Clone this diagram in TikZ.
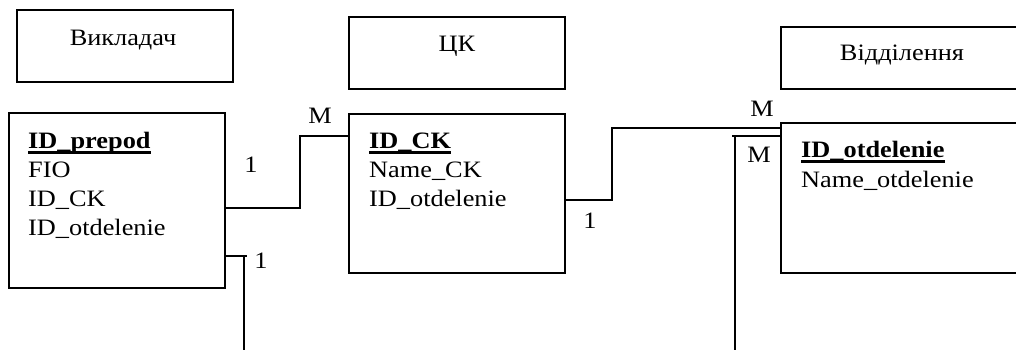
\documentclass[tikz,border=0pt]{standalone}
\usepackage{fontspec}
\setmainfont[FakeStretch=1.12]{Liberation Serif}
\begin{document}
\begin{tikzpicture}[x=1pt,y=-1pt,
  box/.style={draw, line width=1.8pt, inner sep=0, anchor=north west},
  txt/.style={inner sep=0, anchor=base west, font=\fontsize{23.5}{29}\selectfont},
  keyt/.style={inner sep=0, anchor=base west, font=\fontsize{23.5}{29}\selectfont\bfseries},
  ttl/.style={inner sep=0, anchor=base, font=\fontsize{23.5}{29}\selectfont},
  lab/.style={inner sep=0, anchor=base, font=\fontsize{23.5}{29}\selectfont},
  conn/.style={line width=1.8pt},
  uline/.style={line width=2.6pt}]
\useasboundingbox (0,0) rectangle (1016,350);
\clip (0,0) rectangle (1016,350);

% entity title boxes
\node[box, minimum width=216, minimum height=72] (hv) at (16,9) {};
\node[ttl] (tv) at (123,46) {Викладач};
\node[box, minimum width=216, minimum height=72] (hc) at (348,16) {};
\node[ttl] (tc) at (457,52) {ЦК};
\node[box, minimum width=260, minimum height=62] (ho) at (780,26) {};
\node[ttl] (to) at (902,61) {Відділення};

% tables
\node[box, minimum width=216, minimum height=175] (tp) at (8,112) {};
\node[keyt] (k1) at (28,148) {ID\_prepod};
\draw[uline] ([yshift=-4.5pt]k1.base west) -- ([yshift=-4.5pt]k1.base east);
\node[txt] (a11) at (28,177) {FIO};
\node[txt] (a12) at (28,206) {ID\_CK};
\node[txt] (a13) at (28,235) {ID\_otdelenie};

\node[box, minimum width=216, minimum height=159] (tk) at (348,113) {};
\node[keyt] (k2) at (369,148) {ID\_CK};
\draw[uline] ([yshift=-4.5pt]k2.base west) -- ([yshift=-4.5pt]k2.base east);
\node[txt] (a21) at (369,177) {Name\_CK};
\node[txt] (a22) at (369,206) {ID\_otdelenie};

\node[box, minimum width=260, minimum height=150] (td) at (780,122) {};
\node[keyt] (k3) at (801,157) {ID\_otdelenie};
\draw[uline] ([yshift=-4.5pt]k3.base west) -- ([yshift=-4.5pt]k3.base east);
\node[txt] (a31) at (801,187) {Name\_otdelenie};

% connectors
\coordinate (e1) at (244,350);
\coordinate (e2) at (735,350);
\draw[conn] (tp.east |- 0,208) -- (300,208) |- (tk.west |- 0,136);
\draw[conn] (tk.east |- 0,200) -- (612,200) |- (td.west |- 0,128);
\draw[conn] (tp.east |- 0,256) -- (247,256);
\draw[conn] (e1) -- (244,256);
\draw[conn] (td.west |- 0,136) -- (732,136);
\draw[conn] (e2) -- (735,136);

% cardinality labels
\node[lab] (l1) at (251,172) {1};
\node[lab] (l2) at (320,123) {M};
\node[lab] (l3) at (261,268) {1};
\node[lab] (l4) at (590,228) {1};
\node[lab] (l5) at (762,117) {M};
\node[lab] (l6) at (759,162) {M};
\end{tikzpicture}
\end{document}
